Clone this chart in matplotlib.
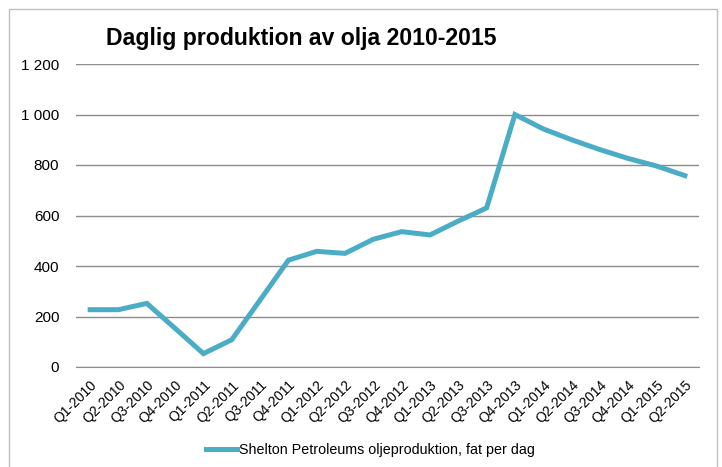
import numpy as np
import matplotlib.pyplot as plt
from matplotlib.patches import Rectangle

quarters = ['Q1-2010', 'Q2-2010', 'Q3-2010', 'Q4-2010',
            'Q1-2011', 'Q2-2011', 'Q3-2011', 'Q4-2011',
            'Q1-2012', 'Q2-2012', 'Q3-2012', 'Q4-2012',
            'Q1-2013', 'Q2-2013', 'Q3-2013', 'Q4-2013',
            'Q1-2014', 'Q2-2014', 'Q3-2014', 'Q4-2014',
            'Q1-2015', 'Q2-2015']
production = [227, 227, 252, 153, 53, 108, 265, 423, 458, 450, 506, 536,
              523, 578, 630, 1000, 943, 900, 861, 826, 796, 758]
yticks = [0, 200, 400, 600, 800, 1000, 1200]
ytick_labels = ['0', '200', '400', '600', '800', '1 000', '1 200']
series_name = 'Shelton Petroleums oljeproduktion, fat per dag'

plt.rcParams['font.family'] = ['Liberation Sans', 'DejaVu Sans']

fig = plt.figure(figsize=(7.22, 4.67), dpi=100)
W, H = 722, 467
ax = fig.add_axes([76 / W, 1 - 367 / H, (699 - 76) / W, (367 - 64) / H])

x = np.arange(len(quarters))
ax.plot(x, production, color='#4BACC6', lw=3.6, solid_joinstyle='miter',
        label=series_name)

ax.set_xlim(-0.5, len(quarters) - 0.5)
ax.set_ylim(0, 1200)
ax.set_yticks(yticks)
ax.set_yticklabels(ytick_labels, fontsize=11)
ax.set_xticks(x)
ax.set_xticklabels(quarters, rotation=45, ha='right', rotation_mode='anchor',
                   fontsize=10)
ax.tick_params(axis='y', length=0, pad=12)
ax.tick_params(axis='x', length=0, pad=8)
ax.grid(axis='y', color='#8c8c8c', lw=1)
ax.set_axisbelow(True)
for s in ['left', 'right', 'top']:
    ax.spines[s].set_visible(False)
ax.spines['bottom'].set_color('#8c8c8c')

fig.text(106 / W, 1 - 38 / H, 'Daglig produktion av olja 2010-2015',
         fontsize=16.6, fontweight='bold', va='center', ha='left')

ax.legend(loc='center', bbox_to_anchor=(370 / W, 1 - 450 / H),
          bbox_transform=fig.transFigure, frameon=False, fontsize=10.3,
          handlelength=2.2, handletextpad=0.1)

fig.patches.append(Rectangle((9 / W, -0.01), (717 - 9) / W, 1 - 9 / H + 0.01,
                             transform=fig.transFigure, fill=False,
                             edgecolor='#bfbfbf', lw=1))

fig.savefig('out.png', dpi=100)
